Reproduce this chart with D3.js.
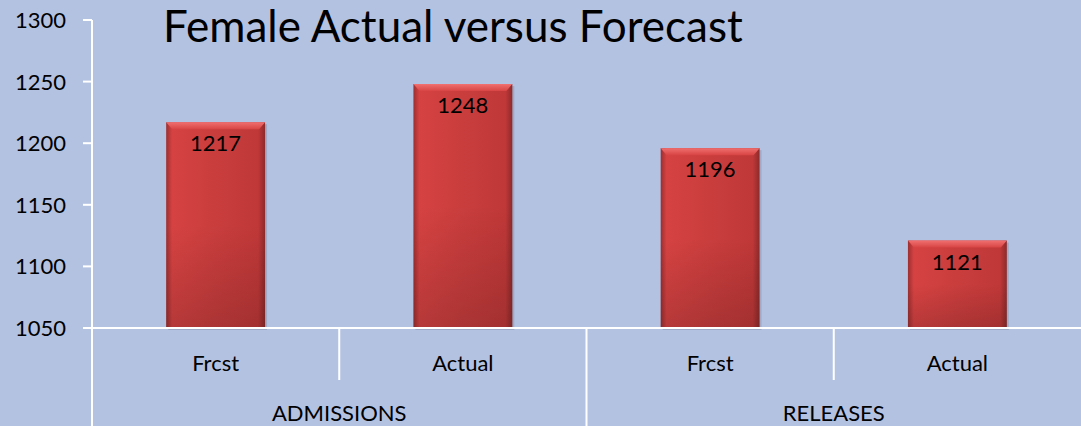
<!DOCTYPE html>
<html><head><meta charset="utf-8">
<script src="https://cdn.jsdelivr.net/npm/d3@7"></script>
<style>html,body{margin:0;padding:0;background:#b4c2e2;}svg{display:block;}</style>
</head><body><svg id="c" width="1081" height="426"></svg>
<script>
const groups = ["ADMISSIONS", "RELEASES"];
const categories = ["Frcst", "Actual", "Frcst", "Actual"];
const values = [1217, 1248, 1196, 1121];
const yTicks = [1050, 1100, 1150, 1200, 1250, 1300];
const title = "Female Actual versus Forecast";

const W = 1081, H = 426;
const m = {left: 92, right: 0, top: 20, bottom: 98};
const svg = d3.select("#c");
const font = "Lato, 'Open Sans', sans-serif";

svg.append("rect").attr("width", W).attr("height", H).attr("fill", "#b4c2e2");

const defs = svg.append("defs");
const g1 = defs.append("linearGradient").attr("id", "barH").attr("x1", 0).attr("x2", 1).attr("y1", 0).attr("y2", 0);
[[0,"#9c2f2f"],[0.06,"#d64242"],[0.5,"#c93d3d"],[0.93,"#c03838"],[1,"#8e2a2a"]].forEach(([o,c]) => g1.append("stop").attr("offset", o).attr("stop-color", c));
const g2 = defs.append("linearGradient").attr("id", "barV").attr("x1", 0).attr("x2", 0).attr("y1", 0).attr("y2", 1);
[[0,"#ffffff",0.0],[0.5,"#000000",0.0],[1,"#000000",0.15]].forEach(([o,c,a]) => g2.append("stop").attr("offset", o).attr("stop-color", c).attr("stop-opacity", a));
const g3 = defs.append("linearGradient").attr("id", "bevel").attr("x1", 0).attr("x2", 0).attr("y1", 0).attr("y2", 1);
[[0,"#f07070"],[1,"#d84444"]].forEach(([o,c]) => g3.append("stop").attr("offset", o).attr("stop-color", c));

const y = d3.scaleLinear().domain([1050, 1300]).range([H - m.bottom, m.top]);
const x = d3.scaleBand().domain(d3.range(categories.length)).range([m.left, W - m.right]).paddingInner(0).paddingOuter(0);
const bw = x.bandwidth() * 0.4;
const plotBottom = y(1050);

// bars
const bars = svg.append("g");
values.forEach((v, i) => {
  const bx = x(i) + (x.bandwidth() - bw) / 2;
  const by = y(v);
  const bh = plotBottom - by;
  bars.append("rect").attr("x", bx + 2).attr("y", by + 2).attr("width", bw).attr("height", bh).attr("fill", "#000").attr("opacity", 0.12);
  bars.append("rect").attr("x", bx).attr("y", by).attr("width", bw).attr("height", bh).attr("fill", "url(#barH)");
  bars.append("rect").attr("x", bx).attr("y", by).attr("width", bw).attr("height", bh).attr("fill", "url(#barV)");
  bars.append("path").attr("d", `M${bx},${by}L${bx+bw},${by}L${bx+bw-6},${by+7}L${bx+6},${by+7}Z`).attr("fill", "url(#bevel)");
  bars.append("text").attr("x", bx + bw / 2).attr("y", by + 29).attr("text-anchor", "middle")
    .attr("font-family", font).attr("font-size", 22).attr("fill", "#000").text(v);
});

// y axis
const ax = svg.append("g");
ax.append("line").attr("x1", m.left).attr("x2", m.left).attr("y1", y(1300)).attr("y2", H).attr("stroke", "#fff").attr("stroke-width", 2);
yTicks.forEach(t => {
  ax.append("line").attr("x1", m.left - 9).attr("x2", m.left).attr("y1", y(t)).attr("y2", y(t)).attr("stroke", "#fff").attr("stroke-width", 2);
  ax.append("text").attr("x", 66).attr("y", y(t) + 8).attr("text-anchor", "end")
    .attr("font-family", font).attr("font-size", 22).attr("fill", "#000").text(t);
});

// x axis
ax.append("line").attr("x1", m.left - 9).attr("x2", W).attr("y1", plotBottom).attr("y2", plotBottom).attr("stroke", "#fff").attr("stroke-width", 2);
categories.forEach((c, i) => {
  ax.append("text").attr("x", x(i) + x.bandwidth() / 2).attr("y", plotBottom + 43).attr("text-anchor", "middle")
    .attr("font-family", font).attr("font-size", 22).attr("fill", "#000").text(c);
  if (i > 0) {
    const long = i % 2 === 0;
    ax.append("line").attr("x1", x(i)).attr("x2", x(i)).attr("y1", plotBottom).attr("y2", long ? H : plotBottom + 52)
      .attr("stroke", "#fff").attr("stroke-width", 2);
  }
});
groups.forEach((gname, gi) => {
  const x0 = x(gi * 2), x1 = x(gi * 2 + 1) + x.bandwidth();
  ax.append("text").attr("x", (x0 + x1) / 2).attr("y", plotBottom + 93).attr("text-anchor", "middle")
    .attr("font-family", font).attr("font-size", 22).attr("fill", "#000").text(gname);
});

svg.append("text").attr("x", 163).attr("y", 42).attr("font-family", font).attr("font-size", 44)
  .attr("fill", "#000").text(title);
</script></body></html>
